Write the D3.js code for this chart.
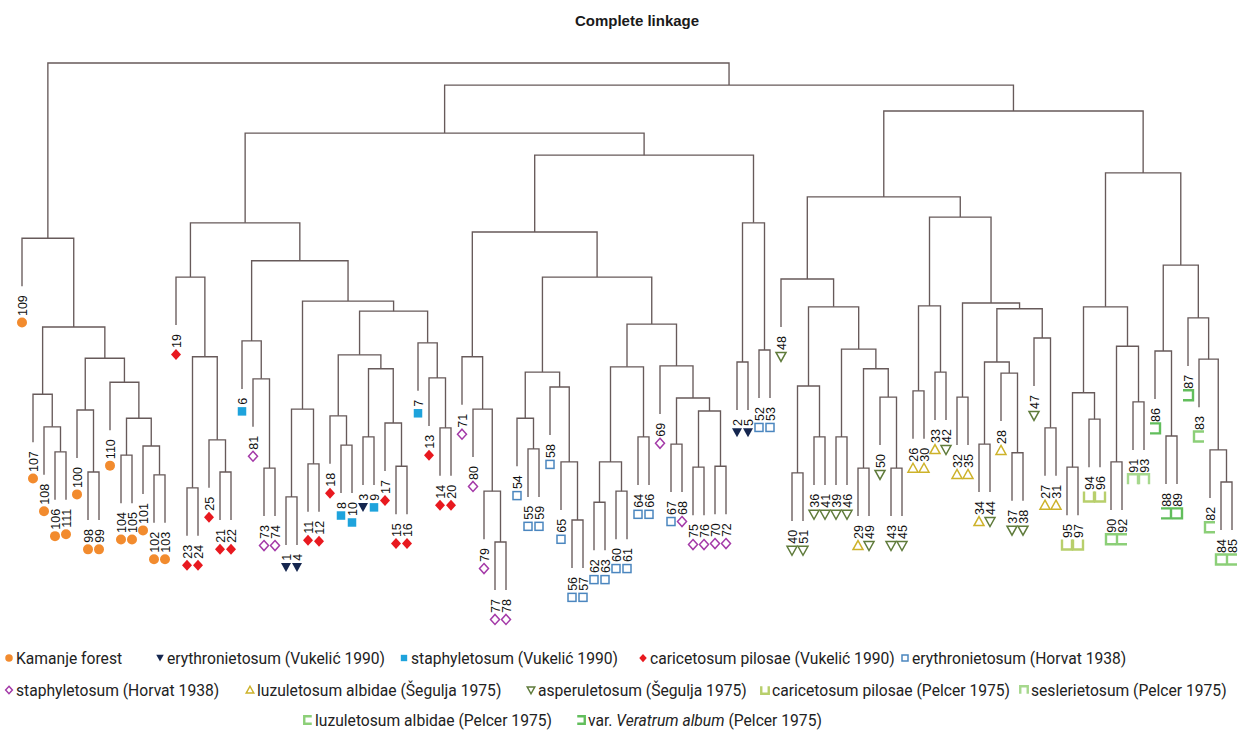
<!DOCTYPE html>
<html>
<head>
<meta charset="utf-8">
<script src="https://cdn.jsdelivr.net/npm/d3@7"></script>
<style>
  html, body { margin: 0; padding: 0; background: #ffffff; }
  svg { display: block; }
</style>
</head>
<body>
<svg id="chart" width="1246" height="731"></svg>
<script>
// Complete-linkage clustering of relevés: merge table in hclust style.
// Negative entries are relevé numbers, positive entries refer to earlier merges (1-based).
const merges = [
  [-106, -111], [-108, 1], [-107, 2], [-98, -99], [-100, 4], [-104, -105], [-102, -103], [-101, 7],
  [6, 8], [-110, 9], [5, 10], [3, 11], [-109, 12],
  [-23, -24], [-21, -22], [-25, 15], [14, 16], [-19, 17],
  [-73, -74], [-81, 19], [-6, 20], [-1, -4], [-11, -12], [22, 23], [-8, -10], [-18, 25],
  [-3, -9], [-15, -16], [-17, 28], [27, 29], [26, 30], [-14, -20], [-13, 32], [-7, 33],
  [31, 34], [24, 35], [21, 36], [18, 37],
  [-77, -78], [-79, 39], [-80, 40], [-71, 41], [-55, -59], [-54, 43], [-56, -57], [-65, 45],
  [-58, 46], [44, 47], [-62, -63], [-60, -61], [49, 50], [-64, -66], [51, 52], [-67, -68],
  [-75, -76], [-70, -72], [55, 56], [54, 57], [-69, 58], [53, 59], [48, 60], [42, 61],
  [-2, -5], [-52, -53], [63, 64], [62, 65], [38, 66],
  [-40, -51], [-36, -41], [68, 69], [-39, -46], [-29, -49], [-43, -45], [-50, 73], [72, 74],
  [71, 75], [70, 76], [-48, 77], [-26, -30], [-33, -42], [79, 80], [-32, -35], [-34, -44],
  [-37, -38], [-28, 84], [83, 85], [-27, -31], [-47, 87], [86, 88], [82, 89], [81, 90], [78, 91],
  [-95, -97], [-94, -96], [93, 94], [-90, -92], [-91, -93], [96, 97], [95, 98], [-88, -89],
  [-86, 100], [-84, -85], [-82, 102], [-83, 103], [-87, 104], [101, 105], [99, 106],
  [92, 107], [67, 108], [13, 109]
];

// Merge heights (dissimilarity), one per merge above
const heights = [
  0.190, 0.242, 0.310, 0.148, 0.277, 0.183, 0.142, 0.202,
  0.260, 0.335, 0.385, 0.450, 0.635,
  0.115, 0.148, 0.215, 0.388, 0.554,
  0.156, 0.342, 0.421, 0.096, 0.165, 0.279, 0.204, 0.265,
  0.221, 0.160, 0.250, 0.363, 0.392, 0.240, 0.344, 0.417,
  0.483, 0.504, 0.588, 0.667,
  0.002, 0.108, 0.279, 0.388, 0.196, 0.260, 0.048, 0.169,
  0.325, 0.356, 0.085, 0.108, 0.169, 0.221, 0.367, 0.206,
  0.158, 0.160, 0.275, 0.302, 0.369, 0.456, 0.554, 0.648,
  0.377, 0.402, 0.667, 0.808, 0.854,
  0.146, 0.221, 0.327, 0.221, 0.156, 0.156, 0.304, 0.363,
  0.404, 0.492, 0.550, 0.317, 0.356, 0.494, 0.304, 0.206,
  0.188, 0.354, 0.377, 0.240, 0.427, 0.488, 0.500, 0.679, 0.721,
  0.158, 0.258, 0.313, 0.169, 0.294, 0.410, 0.492, 0.223,
  0.400, 0.127, 0.194, 0.383, 0.469, 0.579, 0.771,
  0.900, 0.954, 1.000
];

// Vegetation groups (legend order)
const groupNames = [
  "Kamanje forest",
  "erythronietosum (Vukelić 1990)",
  "staphyletosum (Vukelić 1990)",
  "caricetosum pilosae (Vukelić 1990)",
  "erythronietosum (Horvat 1938)",
  "staphyletosum (Horvat 1938)",
  "luzuletosum albidae (Šegulja 1975)",
  "asperuletosum (Šegulja 1975)",
  "caricetosum pilosae (Pelcer 1975)",
  "seslerietosum (Pelcer 1975)",
  "luzuletosum albidae (Pelcer 1975)",
  "var. Veratrum album (Pelcer 1975)"
];
const groupColors = [
  "#f28b2e", "#15264f", "#1ea3dc", "#e8191f", "#4b86bf", "#a43aa8",
  "#cdb22a", "#5f7b3b", "#b8cf6c", "#a6d88d", "#8ccf78", "#62be5c"
];
const groupShapes = [
  "circle", "triDownFilled", "squareFilled", "diamondFilled", "squareOpen", "diamondOpen",
  "triUpOpen", "triDownOpen", "cupOpenTop", "capOpenBottom", "bracketOpenRight", "bracketOpenLeft"
];
// Relevé numbers belonging to each group
const groupMembers = [
  [98, 99, 100, 101, 102, 103, 104, 105, 106, 107, 108, 109, 110, 111],
  [1, 2, 3, 4, 5],
  [6, 7, 8, 9, 10],
  [11, 12, 13, 14, 15, 16, 17, 18, 19, 20, 21, 22, 23, 24, 25],
  [52, 53, 54, 55, 56, 57, 58, 59, 60, 61, 62, 63, 64, 65, 66, 67],
  [68, 69, 70, 71, 72, 73, 74, 75, 76, 77, 78, 79, 80, 81],
  [26, 27, 28, 29, 30, 31, 32, 33, 34, 35],
  [36, 37, 38, 39, 40, 41, 42, 43, 44, 45, 46, 47, 48, 49, 50, 51],
  [94, 95, 96, 97],
  [91, 93],
  [82, 83, 84, 85, 90, 92],
  [86, 87, 88, 89]
];

const title = "Complete linkage";
const hang = 0.1;

const svg = d3.select("#chart");

// ---- build the hierarchy from the merge table ----
const groupOf = new Map();
groupMembers.forEach((list, gi) => list.forEach(n => groupOf.set(n, gi)));

const built = [];
const asNode = ref => ref < 0
  ? { name: String(-ref), height: 0, group: groupOf.get(-ref) }
  : built[ref - 1];
merges.forEach((pair, i) => {
  built.push({ name: "m" + (i + 1), height: heights[i], children: pair.map(asNode) });
});
const root = d3.hierarchy(built[built.length - 1]);

// ---- scales ----
const leaves = root.leaves();
const x = d3.scalePoint().domain(leaves.map(d => d.data.name)).range([22, 1232]);
const y = d3.scaleLinear().domain([0, d3.max(heights)]).range([543, 63]);

// node x positions: leaves on the point scale, internal nodes at midpoint of children
root.eachAfter(d => {
  d.px = d.children ? d3.mean(d.children, c => c.px) : x(d.data.name);
});
const nodeY = d => d.children ? y(d.data.height) : y(d.parent.data.height - hang);

// ---- title ----
svg.append("text")
  .attr("x", 637).attr("y", 26)
  .attr("text-anchor", "middle")
  .attr("font-family", "Liberation Sans, Arial, sans-serif")
  .attr("font-weight", "bold")
  .attr("font-size", 15)
  .attr("fill", "#1a1a1a")
  .text(title);

// ---- dendrogram branches ----
const branchPath = d => {
  const yy = y(d.data.height);
  const a = d.children[0], b = d.children[d.children.length - 1];
  return `M${a.px},${nodeY(a)}V${yy}H${b.px}V${nodeY(b)}`;
};
svg.append("g")
  .attr("fill", "none")
  .attr("stroke", "#675a5a")
  .attr("stroke-width", 1.35)
  .selectAll("path")
  .data(root.descendants().filter(d => d.children))
  .join("path")
  .attr("d", branchPath);

// ---- markers ----
function drawSymbol(g, shape, color, cx, cy, s) {
  const h = s / 2;
  const open = { fill: "#ffffff", stroke: color, "stroke-width": 1.5 };
  const filled = { fill: color, stroke: "none" };
  const bracket = { fill: "none", stroke: color, "stroke-width": 2.4 };
  let el, attrs;
  switch (shape) {
    case "circle":
      el = g.append("circle").attr("cx", cx).attr("cy", cy).attr("r", h); attrs = filled; break;
    case "triDownFilled":
      el = g.append("path").attr("d", `M${cx - h},${cy - h * 0.85}H${cx + h}L${cx},${cy + h * 0.95}Z`); attrs = filled; break;
    case "squareFilled":
      el = g.append("rect").attr("x", cx - h * 0.85).attr("y", cy - h * 0.85).attr("width", s * 0.85).attr("height", s * 0.85); attrs = filled; break;
    case "diamondFilled":
      el = g.append("path").attr("d", `M${cx},${cy - h * 1.1}L${cx + h},${cy}L${cx},${cy + h * 1.1}L${cx - h},${cy}Z`); attrs = filled; break;
    case "squareOpen":
      el = g.append("rect").attr("x", cx - h * 0.8).attr("y", cy - h * 0.8).attr("width", s * 0.8).attr("height", s * 0.8); attrs = open; break;
    case "diamondOpen":
      el = g.append("path").attr("d", `M${cx},${cy - h}L${cx + h * 0.9},${cy}L${cx},${cy + h}L${cx - h * 0.9},${cy}Z`); attrs = open; break;
    case "triUpOpen":
      el = g.append("path").attr("d", `M${cx},${cy - h}L${cx + h},${cy + h * 0.8}H${cx - h}Z`); attrs = open; break;
    case "triDownOpen":
      el = g.append("path").attr("d", `M${cx - h},${cy - h * 0.8}H${cx + h}L${cx},${cy + h}Z`); attrs = open; break;
    case "cupOpenTop":
      el = g.append("path").attr("d", `M${cx - h},${cy - h}V${cy + h}H${cx + h}V${cy - h}`); attrs = bracket; break;
    case "capOpenBottom":
      el = g.append("path").attr("d", `M${cx - h},${cy + h}V${cy - h}H${cx + h}V${cy + h}`); attrs = bracket; break;
    case "bracketOpenRight":
      el = g.append("path").attr("d", `M${cx + h},${cy - h}H${cx - h}V${cy + h}H${cx + h}`); attrs = bracket; break;
    case "bracketOpenLeft":
      el = g.append("path").attr("d", `M${cx - h},${cy - h}H${cx + h}V${cy + h}H${cx - h}`); attrs = bracket; break;
  }
  Object.entries(attrs).forEach(([k, v]) => el.attr(k, v));
}

// ---- leaf labels (rotated, reading upwards) with group marker below ----
const labelG = svg.append("g");
leaves.forEach(leaf => {
  const lx = leaf.px;
  const top = nodeY(leaf) + 9;
  const t = labelG.append("text")
    .attr("transform", `translate(${lx + 4.6},${top}) rotate(-90)`)
    .attr("text-anchor", "end")
    .attr("font-family", "Liberation Sans, Arial, sans-serif")
    .attr("font-size", 12.5)
    .attr("fill", "#111")
    .text(leaf.data.name);
  const len = t.node().getComputedTextLength();
  const gi = leaf.data.group;
  drawSymbol(labelG, groupShapes[gi], groupColors[gi], lx, top + len + 6.5, 10);
});

// ---- legend (condensed type, three rows) ----
const legendPos = [
  [9, 658], [160, 658], [404, 658], [643, 658], [905, 658],
  [9, 690], [250, 690], [531, 690], [765, 690], [1024, 690],
  [308, 720], [581, 720]
];
const condense = 0.92;
const legendG = svg.append("g")
  .attr("font-family", "Roboto, Liberation Sans, sans-serif")
  .attr("font-size", 17)
  .attr("fill", "#222");
groupNames.forEach((name, gi) => {
  const [lx, ly] = legendPos[gi];
  drawSymbol(legendG, groupShapes[gi], groupColors[gi], lx, ly, 7.5);
  const t = legendG.append("text").attr("x", lx + 7).attr("y", ly + 6);
  if (name.startsWith("var. ")) {
    t.append("tspan").text("var. ");
    t.append("tspan").attr("font-style", "italic").text("Veratrum album");
    t.append("tspan").text(name.replace("var. Veratrum album", ""));
  } else {
    t.text(name);
  }
  const natural = t.node().getComputedTextLength();
  t.attr("textLength", natural * condense).attr("lengthAdjust", "spacingAndGlyphs");
});
</script>
</body>
</html>
